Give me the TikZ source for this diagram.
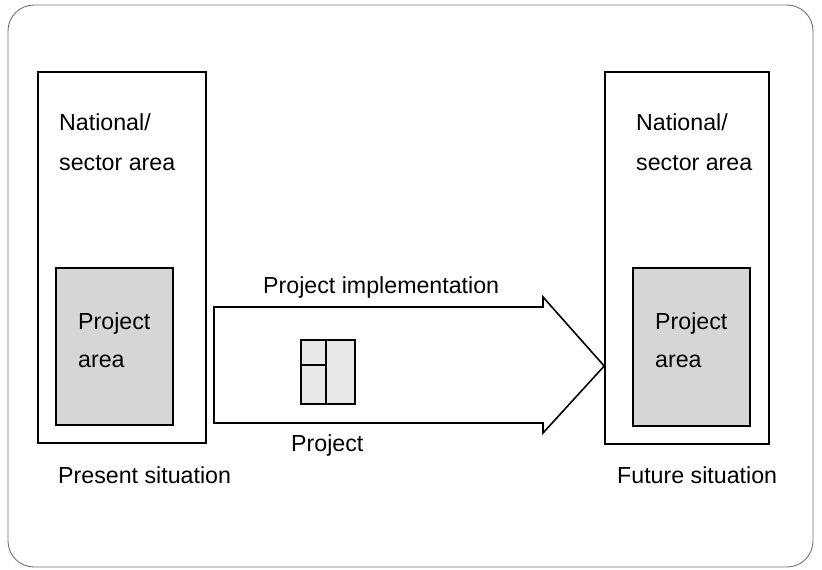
\documentclass[tikz,border=0pt]{standalone}
\usepackage{fontspec}
\setmainfont{Liberation Sans}
\begin{document}
\begin{tikzpicture}[x=1pt,y=-1pt,
  frame/.style={draw=black!55, line width=0.9pt, rounded corners=26pt},
  bigbox/.style={draw, line width=1.6pt, inner sep=0pt},
  areabox/.style={draw, line width=1.6pt, fill=black!16, inner sep=0pt},
  iconbox/.style={draw, line width=1.5pt, fill=black!9, inner sep=0pt},
  lbl/.style={font=\fontsize{23.2}{28}\selectfont, anchor=base west, inner sep=0pt},
  arrowline/.style={draw, line width=1.6pt, line join=miter}]
\useasboundingbox (0,0) rectangle (822,570);
\draw[frame] (8,5) rectangle (813,567);
% boxes
\node[bigbox, minimum width=168pt, minimum height=371pt] (L) at (122,257.5) {};
\node[bigbox, minimum width=164pt, minimum height=372pt] (R) at (687,258) {};
\node[areabox, minimum width=117pt, minimum height=157pt] (LA) at (114.5,346.5) {};
\node[areabox, minimum width=117pt, minimum height=158pt] (RA) at (691.5,347) {};
% arrow
\coordinate (tip) at (R.west |- 0,366);
\draw[arrowline] (214,307) -- (543,307) -- (543,297) -- (tip) -- (543,433) -- (543,423) -- (214,423) -- cycle;
% project icon
\node[iconbox, minimum width=54pt, minimum height=64pt] (P) at (328,372) {};
\draw[line width=1.5pt] (P.north -| 326,0) -- (P.south -| 326,0);
\draw[line width=1.5pt] (P.west |- 0,365) -- (326,365);
% texts
\node[lbl] (t1) at (59,130) {National/};
\node[lbl] (t2) at (59,170) {sector area};
\node[lbl] (t3) at (636,130) {National/};
\node[lbl] (t4) at (636,170) {sector area};
\node[lbl] (t5) at (78,329) {Project};
\node[lbl] (t6) at (78,367) {area};
\node[lbl] (t7) at (655,329) {Project};
\node[lbl] (t8) at (655,367) {area};
\node[lbl] (t9) at (263,293) {Project implementation};
\node[lbl] (t10) at (291,451) {Project};
\node[lbl] (t11) at (58,483) {Present situation};
\node[lbl] (t12) at (617,483) {Future situation};
\end{tikzpicture}
\end{document}
